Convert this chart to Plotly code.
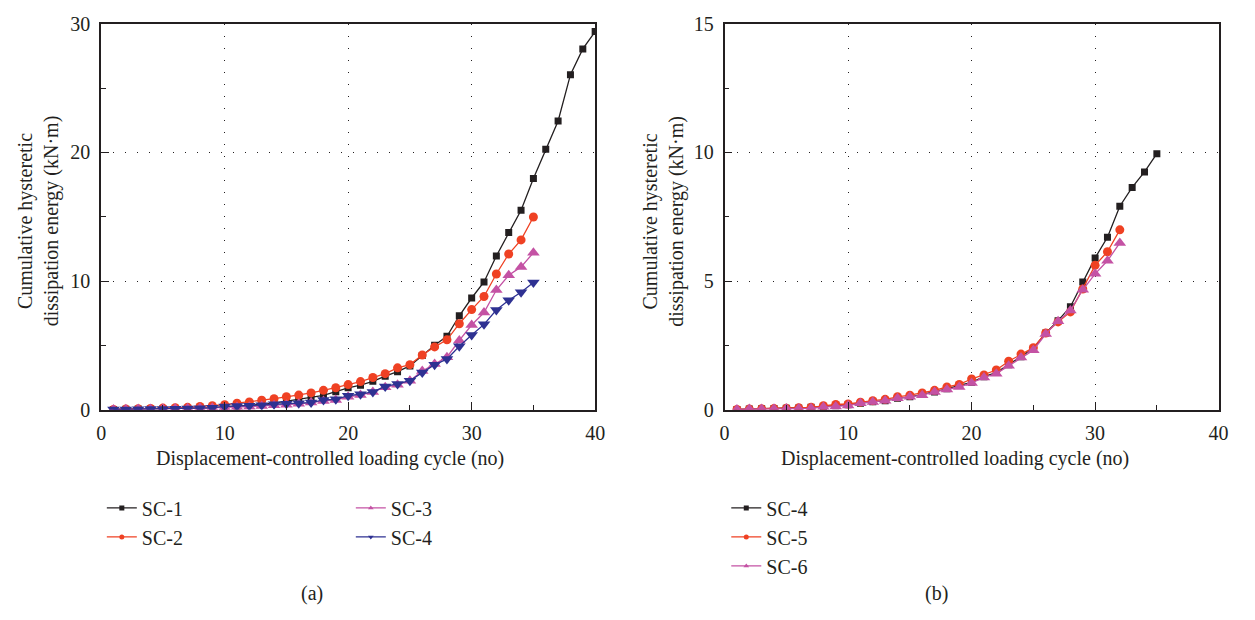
import plotly.graph_objects as go

cycles_a = list(range(1, 41))
cycles_35 = list(range(1, 36))
cycles_32 = list(range(1, 33))

sc1 = [0.02, 0.03, 0.04, 0.05, 0.06, 0.07, 0.09, 0.11, 0.15, 0.22,
       0.27, 0.33, 0.40, 0.50, 0.65, 0.80, 0.95, 1.10, 1.40, 1.70,
       1.90, 2.20, 2.60, 2.95, 3.40, 4.20, 5.00, 5.70, 7.30, 8.68,
       9.93, 11.95, 13.78, 15.50, 17.98, 20.25, 22.45, 26.05, 28.05, 29.40]
sc2 = [0.02, 0.04, 0.06, 0.09, 0.12, 0.15, 0.18, 0.25, 0.30, 0.38,
       0.50, 0.60, 0.73, 0.85, 1.00, 1.13, 1.30, 1.50, 1.70, 1.95,
       2.18, 2.50, 2.80, 3.25, 3.50, 4.25, 4.88, 5.43, 6.68, 7.78,
       8.80, 10.55, 12.10, 13.20, 14.98]
sc3 = [0.02, 0.03, 0.04, 0.05, 0.06, 0.08, 0.10, 0.12, 0.14, 0.17,
       0.20, 0.22, 0.28, 0.35, 0.38, 0.45, 0.55, 0.68, 0.75, 1.00,
       1.13, 1.38, 1.75, 1.93, 2.25, 3.00, 3.55, 4.08, 5.38, 6.58,
       7.55, 9.30, 10.45, 11.10, 12.20]
sc4 = [0.01, 0.02, 0.03, 0.04, 0.05, 0.07, 0.09, 0.11, 0.14, 0.25,
       0.28, 0.30, 0.35, 0.42, 0.45, 0.50, 0.55, 0.75, 0.80, 1.08,
       1.20, 1.38, 1.80, 2.00, 2.25, 2.88, 3.50, 3.93, 4.93, 5.80,
       6.63, 7.75, 8.50, 9.13, 9.88]

b_sc4 = [0.01, 0.02, 0.03, 0.04, 0.05, 0.06, 0.09, 0.12, 0.15, 0.19,
         0.25, 0.31, 0.35, 0.44, 0.50, 0.59, 0.69, 0.81, 0.94, 1.06,
         1.28, 1.44, 1.75, 2.06, 2.38, 2.98, 3.46, 4.00, 4.96, 5.90,
         6.70, 7.91, 8.64, 9.24, 9.95]
b_sc5 = [0.01, 0.02, 0.03, 0.04, 0.05, 0.07, 0.09, 0.15, 0.20, 0.22,
         0.29, 0.35, 0.40, 0.50, 0.56, 0.65, 0.75, 0.88, 0.98, 1.19,
         1.35, 1.54, 1.88, 2.16, 2.41, 2.98, 3.41, 3.80, 4.69, 5.61,
         6.14, 6.99]
b_sc6 = [0.01, 0.02, 0.02, 0.03, 0.04, 0.04, 0.05, 0.10, 0.12, 0.16,
         0.25, 0.30, 0.35, 0.44, 0.50, 0.56, 0.69, 0.78, 0.88, 1.04,
         1.25, 1.40, 1.71, 2.03, 2.31, 2.94, 3.44, 3.85, 4.66, 5.28,
         5.79, 6.48]

BLACK = "#231f20"
RED = "#ef4123"
MAG = "#c452a4"
BLUE = "#2e3192"
FONT = "Liberation Serif"
FS = 20

fig = go.Figure()

def add(x, y, color, symbol, size, xa, ya, name, legend):
    fig.add_trace(go.Scatter(x=x, y=y, mode="lines+markers", xaxis=xa, yaxis=ya,
                             line=dict(color=color, width=1.3),
                             marker=dict(color=color, symbol=symbol, size=size),
                             showlegend=False, name=name))
    fig.add_trace(go.Scatter(x=[None], y=[None], mode="lines+markers", xaxis=xa, yaxis=ya,
                             line=dict(color=color, width=1.3),
                             marker=dict(color=color, symbol=symbol, size=5),
                             showlegend=True, name=name, legend=legend))

add(cycles_a, sc1, BLACK, "square", 7, "x", "y", "SC-1", "legend")
add(cycles_35, sc2, RED, "circle", 9, "x", "y", "SC-2", "legend")
add(cycles_35, sc3, MAG, "triangle-up", 11, "x", "y", "SC-3", "legend2")
add(cycles_35, sc4, BLUE, "triangle-down", 11, "x", "y", "SC-4", "legend2")

add(cycles_35, b_sc4, BLACK, "square", 7, "x2", "y2", "SC-4", "legend3")
add(cycles_32, b_sc5, RED, "circle", 9, "x2", "y2", "SC-5", "legend3")
add(cycles_32, b_sc6, MAG, "triangle-up", 11, "x2", "y2", "SC-6", "legend3")

xcommon = dict(range=[0, 40], dtick=10, tick0=0, ticks="inside", ticklen=8, tickwidth=1.2,
               tickcolor=BLACK, showline=True, linecolor=BLACK, linewidth=1.8, mirror=True,
               showgrid=True, gridcolor=BLACK, gridwidth=1, griddash="1px,11px",
               zeroline=False, tickfont=dict(family=FONT, size=FS, color=BLACK),
               ticklabelstandoff=4,
               minor=dict(dtick=5, ticks="inside", ticklen=5, tickcolor=BLACK, showgrid=False))

ya = dict(xcommon)
ya.update(range=[0, 30], dtick=10, ticklabelstandoff=5)
yb = dict(xcommon)
yb.update(range=[0, 15], dtick=5, ticklabelstandoff=5,
          minor=dict(dtick=2.5, ticks="inside", ticklen=5, tickcolor=BLACK, showgrid=False))

y0, y1 = 1 - 413.3 / 620, 1 - 13.3 / 620
leg = dict(xanchor="left", yanchor="top", font=dict(family=FONT, size=FS, color=BLACK),
           tracegroupgap=0, itemwidth=30, bgcolor="rgba(0,0,0,0)")
fig.update_layout(
    width=1255, height=620, margin=dict(l=0, r=0, t=0, b=0),
    paper_bgcolor="white", plot_bgcolor="white",
    font=dict(family=FONT, size=FS, color=BLACK),
    xaxis=dict(xcommon, domain=[97.3 / 1255, 597.3 / 1255], anchor="y"),
    yaxis=dict(ya, domain=[y0, y1], anchor="x"),
    xaxis2=dict(xcommon, domain=[728.3 / 1255, 1228.3 / 1255], anchor="y2"),
    yaxis2=dict(yb, domain=[y0, y1], anchor="x2"),
    legend=dict(leg, x=98 / 1255, y=1 - 495 / 620),
    legend2=dict(leg, x=350 / 1255, y=1 - 495 / 620),
    legend3=dict(leg, x=730 / 1255, y=1 - 495 / 620),
)

ann = [
    dict(text="Displacement-controlled loading cycle (no)", x=329 / 1255, y=1 - 464 / 620),
    dict(text="Displacement-controlled loading cycle (no)", x=961 / 1255, y=1 - 464 / 620),
    dict(text="(a)", x=311 / 1255, y=1 - 604 / 620),
    dict(text="(b)", x=943 / 1255, y=1 - 604 / 620),
    dict(text="Cumulative hysteretic<br>dissipation energy (kN·m)", x=33.5 / 1255, y=1 - 218 / 620,
         textangle=-90),
    dict(text="Cumulative hysteretic<br>dissipation energy (kN·m)", x=666.5 / 1255, y=1 - 218 / 620,
         textangle=-90),
]
for a in ann:
    fig.add_annotation(xref="paper", yref="paper", showarrow=False, xanchor="center",
                       yanchor="middle", font=dict(family=FONT, size=FS, color=BLACK), **a)

fig.write_html("out.html")
